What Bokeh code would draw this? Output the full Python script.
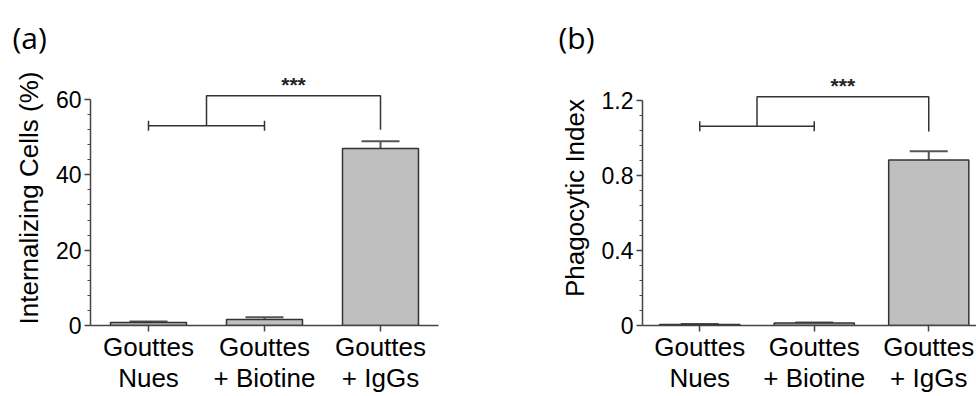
from bokeh.plotting import figure
from bokeh.layouts import row
from bokeh.models import ColumnDataSource, Whisker, TeeHead, Label, FixedTicker, Range1d, LinearAxis
from bokeh.embed import file_html
from bokeh.resources import INLINE

# ---------------- data ----------------
categories = ["Gouttes\nNues", "Gouttes\n+ Biotine", "Gouttes\n+ IgGs"]
positions = [1, 2, 3]

internalizing_mean = [0.8, 1.6, 47.0]
internalizing_err = [0.25, 0.6, 1.9]
internalizing_ticks = [0, 20, 40, 60]
internalizing_minor = [4, 8, 12, 16, 24, 28, 32, 36, 44, 48, 52, 56]
internalizing_bracket = [53.0, 61.0, 52.0]   # pair level, top level, drop level

phago_mean = [0.006, 0.013, 0.883]
phago_err = [0.002, 0.003, 0.047]
phago_ticks = [0, 0.4, 0.8, 1.2]
phago_tick_labels = ["0", "0.4", "0.8", "1.2"]
phago_minor = [0.08, 0.16, 0.24, 0.32, 0.48, 0.56, 0.64, 0.72, 0.88, 0.96, 1.04, 1.12]
phago_bracket = [1.063, 1.22, 1.035]

AX = "#444444"
FONT = "Liberation Sans"


def style_x(ax, labels, ticks_visible):
    ax.ticker = FixedTicker(ticks=positions)
    ax.major_label_overrides = dict(zip(positions, labels))
    ax.bounds = (0.5, 3.5)
    ax.minor_tick_line_color = None
    ax.minor_tick_in = 0
    ax.minor_tick_out = 0
    ax.major_tick_in = 0
    ax.major_label_text_font = FONT
    ax.major_label_text_font_size = "26px"
    ax.major_label_text_color = "black"
    if ticks_visible:
        ax.major_tick_out = 6
        ax.major_label_standoff = 0
        ax.axis_line_color = AX
        ax.axis_line_width = 1.5
        ax.major_tick_line_color = AX
        ax.major_tick_line_width = 1.5
    else:
        ax.major_tick_out = 0
        ax.major_label_standoff = -2
        ax.axis_line_color = None
        ax.major_tick_line_color = None


def panel(means, errs, yticks, ylabels, yminor, ylabel, yend, bracket, letter,
          border_left, border_right, xend, bar_w, letter_dx):
    p = figure(width=488, height=396, x_range=Range1d(0.5, xend), y_range=Range1d(0, yend),
               min_border_left=border_left, min_border_right=border_right,
               min_border_top=70, min_border_bottom=71,
               output_backend="svg", toolbar_location=None)
    p.outline_line_color = None
    p.xgrid.grid_line_color = None
    p.ygrid.grid_line_color = None
    p.background_fill_color = "white"
    p.border_fill_color = "white"

    p.title.text = letter
    p.title.align = "left"
    p.title.offset = letter_dx
    p.title.standoff = 25
    p.title.text_font = "Open Sans"
    p.title.text_font_size = "30px"
    p.title.text_font_style = "normal"
    p.title.text_color = "black"

    src = ColumnDataSource(dict(x=positions, top=means,
                                upper=[m + e for m, e in zip(means, errs)]))
    p.vbar(x="x", top="top", bottom=0, width=bar_w, source=src,
           fill_color="#bfbfbf", line_color="#333333", line_width=1.5)
    p.add_layout(Whisker(source=src, base="x", lower="top", upper="upper",
                         dimension="height", line_color="#555555", line_width=2,
                         upper_head=TeeHead(size=38, line_color="#555555", line_width=2),
                         lower_head=None))

    # significance brackets
    mid = (positions[0] + positions[1]) / 2
    bsrc = ColumnDataSource(dict(base=[bracket[0]], lower=[positions[0]], upper=[positions[1]]))
    p.add_layout(Whisker(source=bsrc, base="base", lower="lower", upper="upper",
                         dimension="width", line_color="#333333", line_width=1.5,
                         upper_head=TeeHead(size=10, line_color="#333333", line_width=1.5),
                         lower_head=TeeHead(size=10, line_color="#333333", line_width=1.5)))
    p.line(x=[mid, mid, positions[2], positions[2]],
           y=[bracket[0], bracket[1], bracket[1], bracket[2]],
           line_color="#333333", line_width=1.5)
    p.add_layout(Label(x=(mid + positions[2]) / 2, y=bracket[1], text="***",
                       text_align="center", text_baseline="bottom", y_offset=0,
                       text_font=FONT, text_font_size="21px", text_font_style="bold",
                       text_color="#222222"))

    # x axes: first line of category label on the main axis, second line below it
    first_lines = [c.split("\n")[0] for c in categories]
    second_lines = [c.split("\n")[1] for c in categories]
    style_x(p.xaxis[0], first_lines, True)
    xa2 = LinearAxis()
    style_x(xa2, second_lines, False)
    p.add_layout(xa2, "below")

    ya = p.yaxis[0]
    ya.ticker = FixedTicker(ticks=yticks, minor_ticks=yminor)
    ya.major_label_overrides = dict(zip(yticks, ylabels))
    ya.bounds = (0, yticks[-1])
    ya.major_tick_in = 0
    ya.major_tick_out = 6
    ya.minor_tick_in = 0
    ya.minor_tick_out = 3
    ya.major_label_standoff = 3
    ya.major_label_text_font = FONT
    ya.major_label_text_font_size = "23px"
    ya.major_label_text_color = "black"
    ya.axis_label = ylabel
    ya.axis_label_standoff = 9
    ya.axis_label_text_font = FONT
    ya.axis_label_text_font_size = "26px"
    ya.axis_label_text_font_style = "normal"
    ya.axis_label_text_color = "black"
    ya.axis_line_color = AX
    ya.axis_line_width = 1.5
    ya.major_tick_line_color = AX
    ya.major_tick_line_width = 1.5
    ya.minor_tick_line_color = AX
    ya.minor_tick_line_width = 1.2
    return p


p1 = panel(internalizing_mean, internalizing_err, internalizing_ticks,
           [str(t) for t in internalizing_ticks], internalizing_minor,
           "Internalizing Cells (%)", 67.7, internalizing_bracket, "(a)",
           90, 50, 3.5, 0.655, -78)
p2 = panel(phago_mean, phago_err, phago_ticks, phago_tick_labels, phago_minor,
           "Phagocytic Index", 1.36, phago_bracket, "(b)",
           154, 0, 3.417, 0.7, -84)

layout = row(p1, p2)
open("out.html", "w").write(file_html(layout, INLINE))
